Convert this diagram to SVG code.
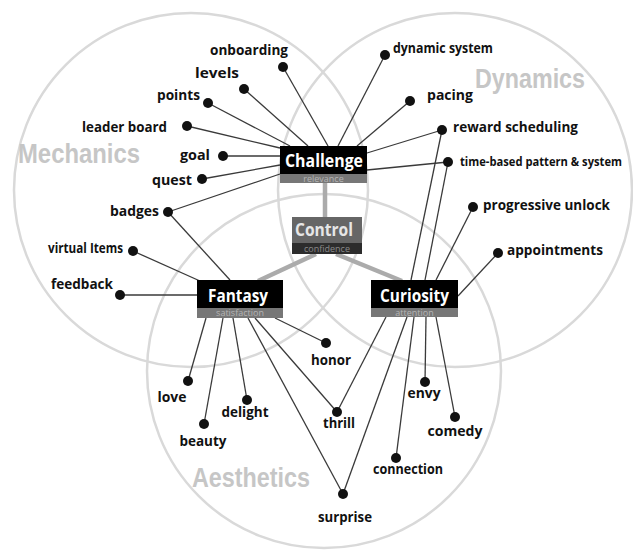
<svg xmlns="http://www.w3.org/2000/svg" width="633" height="551" viewBox="0 0 633 551">
<style>
.ring{fill:none;stroke:#d9d9d9;stroke-width:2.5}
.cat{font-family:"Liberation Sans",Arial,sans-serif;font-weight:bold;fill:#c6c6c6;font-size:27px}
.lbl{font-family:"Open Sans","Noto Sans",sans-serif;font-weight:bold;font-size:14px;fill:#111}
.dot{fill:#111}
.ln{stroke:#3a3a3a;stroke-width:1.3;fill:none}
.thick{stroke:#ababab;stroke-width:4.5;fill:none}
.bt{font-family:"Open Sans","Noto Sans",sans-serif;font-weight:bold;font-size:18px;fill:#fff;text-anchor:middle}
.st{font-family:"Open Sans","Noto Sans",sans-serif;font-size:9px;fill:#b5b5b5;text-anchor:middle}
.e{text-anchor:end}.m{text-anchor:middle}
</style>
<rect width="633" height="551" fill="#fff"/>
<g id="circles">
<circle class="ring" cx="191" cy="190" r="177"/>
<circle class="ring" cx="455" cy="190" r="177"/>
<circle class="ring" cx="324" cy="371" r="177"/>
<text class="cat" x="18" y="163" textLength="122" lengthAdjust="spacingAndGlyphs">Mechanics</text>
<text class="cat" x="475" y="88" textLength="110" lengthAdjust="spacingAndGlyphs">Dynamics</text>
<text class="cat" x="192" y="487" textLength="118" lengthAdjust="spacingAndGlyphs">Aesthetics</text>
</g>
<g id="connectors">
<line class="thick" x1="325" y1="183" x2="325" y2="217"/>
<line class="thick" x1="316" y1="254" x2="258" y2="281"/>
<line class="thick" x1="336" y1="254" x2="402" y2="281"/>
<line class="ln" x1="283" y1="67" x2="328" y2="146"/>
<line class="ln" x1="244" y1="89" x2="308" y2="146"/>
<line class="ln" x1="208" y1="103" x2="290" y2="146"/>
<line class="ln" x1="187" y1="126" x2="280" y2="148"/>
<line class="ln" x1="223" y1="156" x2="280" y2="156"/>
<line class="ln" x1="202" y1="179" x2="280" y2="165"/>
<line class="ln" x1="168" y1="212" x2="280" y2="174"/>
<line class="ln" x1="385" y1="55" x2="338" y2="146"/>
<line class="ln" x1="410" y1="101" x2="357" y2="146"/>
<line class="ln" x1="442" y1="130" x2="367" y2="153"/>
<line class="ln" x1="448" y1="162" x2="367" y2="170"/>
<line class="ln" x1="168" y1="212" x2="230" y2="280"/>
<line class="ln" x1="133" y1="251" x2="200" y2="281"/>
<line class="ln" x1="120" y1="295" x2="197" y2="295"/>
<line class="ln" x1="206" y1="318" x2="188" y2="381"/>
<line class="ln" x1="223" y1="318" x2="204" y2="424"/>
<line class="ln" x1="233" y1="318" x2="247" y2="400"/>
<line class="ln" x1="248" y1="318" x2="343" y2="494"/>
<line class="ln" x1="255" y1="318" x2="337" y2="412"/>
<line class="ln" x1="275" y1="318" x2="326" y2="343"/>
<line class="ln" x1="442" y1="130" x2="411" y2="280"/>
<line class="ln" x1="448" y1="162" x2="425" y2="280"/>
<line class="ln" x1="473" y1="207" x2="436" y2="280"/>
<line class="ln" x1="498" y1="253" x2="458" y2="296"/>
<line class="ln" x1="386" y1="317" x2="337" y2="412"/>
<line class="ln" x1="407" y1="317" x2="343" y2="494"/>
<line class="ln" x1="414" y1="317" x2="396" y2="458"/>
<line class="ln" x1="426" y1="317" x2="425" y2="382"/>
<line class="ln" x1="436" y1="317" x2="455" y2="417"/>
</g>
<g id="challenge">
<rect x="280" y="146" width="87" height="28" fill="#000"/>
<rect x="280" y="174" width="87" height="9" fill="#777"/>
<text class="bt" x="324" y="167" textLength="78" lengthAdjust="spacingAndGlyphs">Challenge</text>
<text class="st" x="323.5" y="181.5">relevance</text>
</g>
<g id="control">
<rect x="292" y="217" width="70" height="26" fill="#666"/>
<rect x="292" y="243" width="70" height="11" fill="#2c2c2c"/>
<text class="bt" x="324" y="236" style="fill:#e6e6e6" textLength="58" lengthAdjust="spacingAndGlyphs">Control</text>
<text class="st" x="327" y="251.5" style="fill:#8a8a8a">confidence</text>
</g>
<g id="fantasy">
<rect x="197" y="280" width="86" height="28" fill="#000"/>
<rect x="197" y="308" width="86" height="10" fill="#777"/>
<text class="bt" x="238" y="302" textLength="60" lengthAdjust="spacingAndGlyphs">Fantasy</text>
<text class="st" x="240" y="316">satisfaction</text>
</g>
<g id="curiosity">
<rect x="371" y="280" width="87" height="28" fill="#000"/>
<rect x="371" y="308" width="87" height="9" fill="#777"/>
<text class="bt" x="414.5" y="302" textLength="69" lengthAdjust="spacingAndGlyphs">Curiosity</text>
<text class="st" x="414.5" y="315.5">attention</text>
</g>
<g id="onboarding"><circle class="dot" cx="283" cy="67" r="5"/><text class="lbl e" x="288" y="55" textLength="78" lengthAdjust="spacingAndGlyphs">onboarding</text></g>
<g id="levels"><circle class="dot" cx="244" cy="89" r="5"/><text class="lbl e" x="239" y="78" textLength="44" lengthAdjust="spacingAndGlyphs">levels</text></g>
<g id="points"><circle class="dot" cx="208" cy="103" r="5"/><text class="lbl e" x="200" y="100" textLength="43" lengthAdjust="spacingAndGlyphs">points</text></g>
<g id="leader-board"><circle class="dot" cx="187" cy="126" r="5"/><text class="lbl e" x="167" y="132" textLength="85" lengthAdjust="spacingAndGlyphs">leader board</text></g>
<g id="goal"><circle class="dot" cx="223" cy="156" r="5"/><text class="lbl e" x="210" y="160" textLength="30" lengthAdjust="spacingAndGlyphs">goal</text></g>
<g id="quest"><circle class="dot" cx="202" cy="179" r="5"/><text class="lbl e" x="192" y="185" textLength="40" lengthAdjust="spacingAndGlyphs">quest</text></g>
<g id="badges"><circle class="dot" cx="168" cy="212" r="5"/><text class="lbl e" x="159" y="216" textLength="49" lengthAdjust="spacingAndGlyphs">badges</text></g>
<g id="virtual-items"><circle class="dot" cx="133" cy="251" r="5"/><text class="lbl e" x="123" y="253" textLength="75" lengthAdjust="spacingAndGlyphs">virtual Items</text></g>
<g id="feedback"><circle class="dot" cx="120" cy="295" r="5"/><text class="lbl e" x="113" y="289" textLength="62" lengthAdjust="spacingAndGlyphs">feedback</text></g>
<g id="dynamic-system"><circle class="dot" cx="385" cy="55" r="5"/><text class="lbl" x="393" y="53" textLength="100" lengthAdjust="spacingAndGlyphs">dynamic system</text></g>
<g id="pacing"><circle class="dot" cx="410" cy="101" r="5"/><text class="lbl" x="427" y="100" textLength="46" lengthAdjust="spacingAndGlyphs">pacing</text></g>
<g id="reward-scheduling"><circle class="dot" cx="442" cy="130" r="5"/><text class="lbl" x="453" y="132" textLength="125" lengthAdjust="spacingAndGlyphs">reward scheduling</text></g>
<g id="time-based"><circle class="dot" cx="448" cy="162" r="5"/><text class="lbl" x="460" y="166" style="font-size:12px" textLength="162" lengthAdjust="spacingAndGlyphs">time-based pattern &amp; system</text></g>
<g id="progressive-unlock"><circle class="dot" cx="473" cy="207" r="5"/><text class="lbl" x="483" y="210" textLength="127" lengthAdjust="spacingAndGlyphs">progressive unlock</text></g>
<g id="appointments"><circle class="dot" cx="498" cy="253" r="5"/><text class="lbl" x="507" y="255" textLength="96" lengthAdjust="spacingAndGlyphs">appointments</text></g>
<g id="love"><circle class="dot" cx="188" cy="381" r="5"/><text class="lbl m" x="172" y="402" textLength="29" lengthAdjust="spacingAndGlyphs">love</text></g>
<g id="beauty"><circle class="dot" cx="204" cy="424" r="5"/><text class="lbl m" x="203" y="446" textLength="47" lengthAdjust="spacingAndGlyphs">beauty</text></g>
<g id="delight"><circle class="dot" cx="247" cy="400" r="5"/><text class="lbl m" x="245" y="417" textLength="47" lengthAdjust="spacingAndGlyphs">delight</text></g>
<g id="honor"><circle class="dot" cx="326" cy="343" r="5"/><text class="lbl m" x="331" y="365" textLength="40" lengthAdjust="spacingAndGlyphs">honor</text></g>
<g id="thrill"><circle class="dot" cx="337" cy="412" r="5"/><text class="lbl m" x="339" y="428" textLength="32" lengthAdjust="spacingAndGlyphs">thrill</text></g>
<g id="surprise"><circle class="dot" cx="343" cy="494" r="5"/><text class="lbl m" x="345" y="522" textLength="54" lengthAdjust="spacingAndGlyphs">surprise</text></g>
<g id="envy"><circle class="dot" cx="425" cy="382" r="5"/><text class="lbl m" x="424" y="398" textLength="33" lengthAdjust="spacingAndGlyphs">envy</text></g>
<g id="comedy"><circle class="dot" cx="455" cy="417" r="5"/><text class="lbl m" x="455" y="436" textLength="55" lengthAdjust="spacingAndGlyphs">comedy</text></g>
<g id="connection"><circle class="dot" cx="396" cy="458" r="5"/><text class="lbl m" x="408" y="474" textLength="70" lengthAdjust="spacingAndGlyphs">connection</text></g>
</svg>
